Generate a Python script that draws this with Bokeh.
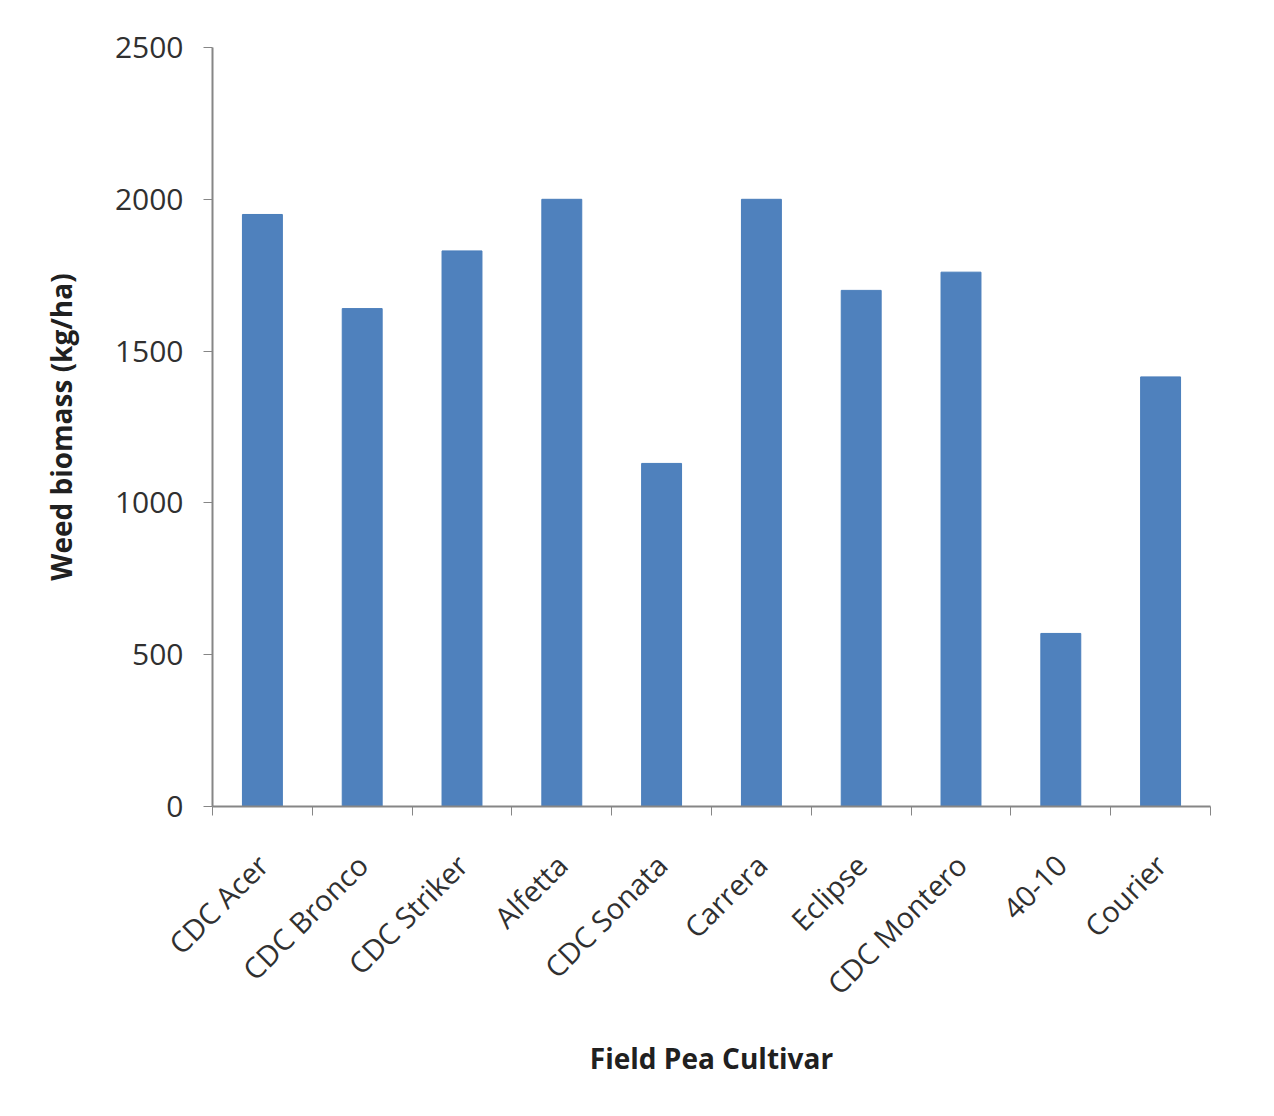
import math
from bokeh.plotting import figure
from bokeh.models import FixedTicker, Range1d, ColumnDataSource
from bokeh.embed import file_html
from bokeh.resources import INLINE

cultivars = ["CDC Acer", "CDC Bronco", "CDC Striker", "Alfetta", "CDC Sonata",
             "Carrera", "Eclipse", "CDC Montero", "40-10", "Courier"]
biomass = [1950, 1640, 1830, 2000, 1130, 2000, 1700, 1760, 570, 1415]
y_ticks = [0, 500, 1000, 1500, 2000, 2500]

positions = [i + 0.5 for i in range(len(cultivars))]
boundaries = list(range(len(cultivars) + 1))

FONT = "Open Sans"
AXIS_GRAY = "#868686"

p = figure(width=1266, height=1108, output_backend="svg", toolbar_location=None,
           x_range=Range1d(0, len(cultivars)), y_range=Range1d(0, 2500),
           min_border_left=212, min_border_top=47, min_border_right=56,
           min_border_bottom=302)
p.background_fill_color = "white"
p.border_fill_color = "white"
p.outline_line_color = None
p.xgrid.grid_line_color = None
p.ygrid.grid_line_color = None

src = ColumnDataSource(dict(x=positions, top=biomass))
p.vbar(x="x", top="top", width=0.4, bottom=0, source=src,
       fill_color="#4F81BD", line_color="#4A7EBB", line_width=1)

# x axis
xa = p.xaxis[0]
xa.ticker = FixedTicker(ticks=positions, minor_ticks=boundaries)
xa.major_label_overrides = {pos: name for pos, name in zip(positions, cultivars)}
xa.major_tick_line_color = None
xa.minor_tick_line_color = AXIS_GRAY
xa.minor_tick_out = 9
xa.minor_tick_in = 0
xa.axis_line_color = AXIS_GRAY
xa.axis_line_width = 2
xa.major_label_orientation = math.pi / 4
xa.major_label_text_font = FONT
xa.major_label_text_font_size = "29px"
xa.major_label_text_color = "#303030"
xa.major_label_standoff = 44
xa.axis_label = "Field Pea Cultivar"
xa.axis_label_text_font = FONT
xa.axis_label_text_font_style = "bold"
xa.axis_label_text_font_size = "28px"
xa.axis_label_text_color = "#202020"
xa.axis_label_standoff = 20

# y axis
ya = p.yaxis[0]
ya.ticker = FixedTicker(ticks=y_ticks)
ya.minor_tick_line_color = None
ya.major_tick_line_color = AXIS_GRAY
ya.major_tick_out = 9
ya.major_tick_in = 0
ya.axis_line_color = AXIS_GRAY
ya.axis_line_width = 2
ya.major_label_text_font = FONT
ya.major_label_text_font_size = "30px"
ya.major_label_text_color = "#303030"
ya.major_label_standoff = 20
ya.axis_label = "Weed biomass (kg/ha)"
ya.axis_label_text_font = FONT
ya.axis_label_text_font_style = "bold"
ya.axis_label_text_font_size = "28px"
ya.axis_label_text_color = "#202020"
ya.axis_label_standoff = 32

open("out.html", "w").write(file_html(p, INLINE))
